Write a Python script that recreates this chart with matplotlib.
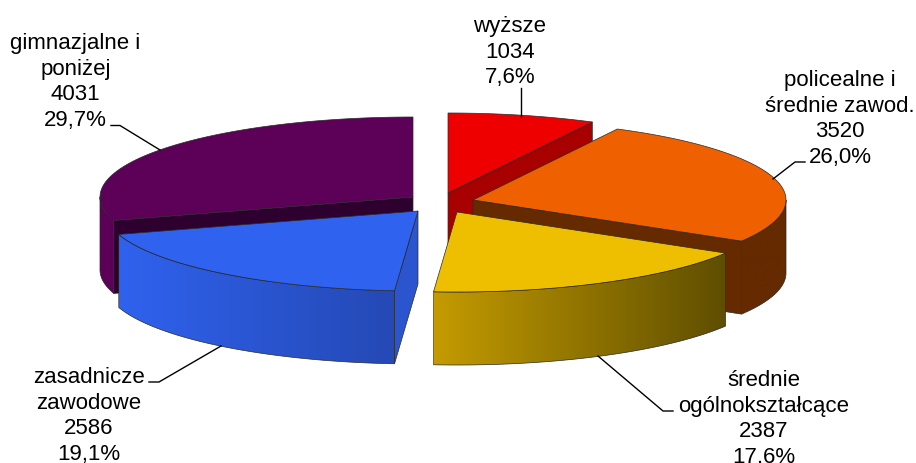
import numpy as np
import matplotlib
matplotlib.use("Agg")
import matplotlib.pyplot as plt
from matplotlib.patches import Polygon
from matplotlib.colors import LinearSegmentedColormap

plt.rcParams['font.family'] = ['Liberation Sans', 'DejaVu Sans']

# Data
categories = [["wyższe"], ["policealne i", "średnie zawod."], ["średnie", "ogólnokształcące"],
              ["zasadnicze", "zawodowe"], ["gimnazjalne i", "poniżej"]]
counts = [1034, 3520, 2387, 2586, 4031]
percents = ["7,6%", "26,0%", "17,6%", "19,1%", "29,7%"]

# Colours per slice
top_colors = ["#EE0000", "#EE6000", "#EEBE00", "#2F62EE", "#5C0058"]
wall_colors = ["#A80000", "#652A00", "#5E4E00", "#2A55CF", "#2E0030"]
rim_left = ["#A80000", "#652A00", "#C49B00", "#2F62EE", "#5C0058"]
rim_right = ["#A80000", "#652A00", "#5E4E00", "#2549B5", "#5C0058"]

# Pie geometry in pixels
rx, ry, depth = 313, 80, 73
apex_x = [448, 473, 457, 418, 413]
apex_y = [193, 200, 212, 211, 197]
edge = "#2a2a2a"

# Label layout: centre x and baseline of the last line
label_x = [510, 840, 763.5, 89, 75.5]
label_last = [83.5, 163, 463, 460, 126]
line_step = 25.7
leaders = [[(521, 88), (521, 117)],
           [(773, 179), (795, 162), (805, 162)],
           [(598, 356), (663, 411), (673, 411)],
           [(221, 346), (159, 382), (149, 382)],
           [(160, 150), (120, 125.5), (111, 125.5)]]

fig = plt.figure(figsize=(9.16, 4.63), dpi=100)
ax = fig.add_axes([0, 0, 1, 1])
ax.set_axis_off()

fracs = np.array(counts) / sum(counts)
ends = np.cumsum(fracs) * 2 * np.pi
starts = ends - fracs * 2 * np.pi


def arc_points(cx, cy, a0, a1, n=120):
    t = np.linspace(a0, a1, n)
    return np.column_stack([cx + rx * np.sin(t), cy - ry * np.cos(t)])


def wall(cx, cy, t, color, z):
    tip = arc_points(cx, cy, t, t, 1)[0]
    pts = [(cx, cy), tip, (tip[0], tip[1] + depth), (cx, cy + depth)]
    ax.add_patch(Polygon(pts, closed=True, fc=color, ec=edge, lw=0.5, zorder=z))


# back to front
order = [4, 0, 1, 3, 2]
z = 1
for i in order:
    cx, cy = apex_x[i], apex_y[i]
    a0, a1 = starts[i], ends[i]

    # cut walls, only those facing the viewer
    if np.sin(a0) < -1e-6:
        wall(cx, cy, a0, wall_colors[i], z)
    if np.sin(a1) > 1e-6:
        wall(cx, cy, a1, wall_colors[i], z)
    z += 1

    # outer rim, front half only
    r0, r1 = max(a0, np.pi / 2), min(a1, 3 * np.pi / 2)
    if r1 > r0:
        arc = arc_points(cx, cy, r0, r1)
        pts = np.vstack([arc, (arc + [0, depth])[::-1]])
        poly = Polygon(pts, closed=True, fc="none", ec=edge, lw=0.5, zorder=z + 1)
        ax.add_patch(poly)
        cmap = LinearSegmentedColormap.from_list("rim", [rim_left[i], rim_right[i]])
        grad = np.linspace(0, 1, 256).reshape(1, -1)
        im = ax.imshow(grad, cmap=cmap, aspect="auto", zorder=z,
                       extent=(pts[:, 0].min(), pts[:, 0].max(), pts[:, 1].max(), pts[:, 1].min()))
        im.set_clip_path(poly)
    z += 2

    # top face
    top = np.vstack([[(cx, cy)], arc_points(cx, cy, a0, a1)])
    ax.add_patch(Polygon(top, closed=True, fc=top_colors[i], ec=edge, lw=0.5, zorder=z))
    z += 1

ax.set_xlim(0, 916)
ax.set_ylim(463, 0)

# Labels, one text per line so the baselines can be placed
for i in range(len(categories)):
    lines = categories[i] + [str(counts[i]), percents[i]]
    for k, line in enumerate(lines):
        y = label_last[i] - line_step * (len(lines) - 1 - k)
        ax.text(label_x[i], y, line, ha="center", va="baseline",
                fontsize=16, color="black", zorder=100)
    xs, ys = zip(*leaders[i])
    ax.plot(xs, ys, color="black", lw=1.0, zorder=99)

fig.savefig("out.png", dpi=100)
